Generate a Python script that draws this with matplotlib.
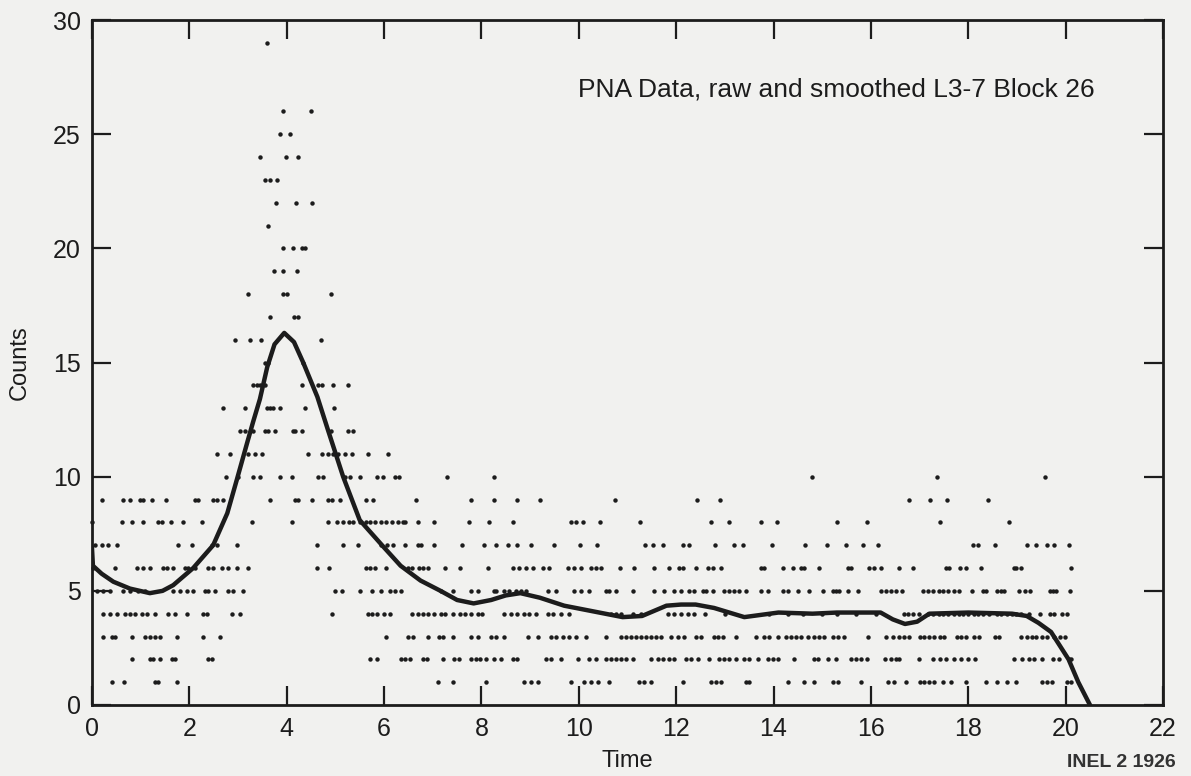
import matplotlib
matplotlib.use('Agg')
import matplotlib.pyplot as plt

plt.rcParams['font.family'] = ['Liberation Sans', 'DejaVu Sans']

# raw PNA counts: time values for each integer count level
times_1 = [0.41, 0.66, 1.3, 1.36, 1.75, 7.1, 7.41, 8.09, 8.87, 9.01, 9.16, 9.84, 10.1, 10.25, 10.39,
           10.62, 11.23, 11.34, 11.48, 12.14, 12.72, 12.82, 12.92, 13.44, 13.5, 14.3, 14.63, 14.84,
           15.23, 15.33, 15.8, 16.36, 16.48, 16.73, 17.0, 17.1, 17.2, 17.3, 17.49, 17.65, 17.96,
           18.37, 18.58, 18.79, 18.99, 19.51, 19.61, 19.71, 20.02, 20.12]
times_2 = [0.82, 1.19, 1.26, 1.4, 1.65, 1.71, 2.39, 2.47, 5.72, 5.86, 6.34, 6.44, 6.54, 6.79, 6.89,
           7.22, 7.43, 7.53, 7.78, 7.88, 7.98, 8.09, 8.25, 8.4, 8.64, 8.74, 9.32, 9.42, 9.63, 9.98,
           10.21, 10.35, 10.56, 10.66, 10.76, 10.86, 10.97, 11.11, 11.48, 11.63, 11.73, 11.85, 11.95,
           12.2, 12.3, 12.45, 12.67, 12.88, 12.98, 13.09, 13.23, 13.4, 13.5, 13.68, 13.89, 13.99,
           14.09, 14.42, 14.84, 14.92, 15.12, 15.29, 15.6, 15.7, 15.8, 15.91, 16.28, 16.42, 16.52,
           16.58, 16.98, 17.28, 17.41, 17.55, 17.7, 17.86, 18.0, 18.13, 18.93, 19.1, 19.24, 19.36,
           19.51, 19.75, 19.86, 20.06, 20.12]
times_3 = [0.23, 0.41, 0.47, 0.82, 1.09, 1.19, 1.3, 1.4, 1.75, 2.28, 2.63, 6.03, 6.5, 6.6, 6.91,
           7.12, 7.22, 7.41, 7.78, 7.92, 8.19, 8.29, 8.46, 8.95, 9.16, 9.42, 9.53, 9.67, 9.79, 9.94,
           10.14, 10.56, 10.86, 10.97, 11.07, 11.17, 11.28, 11.38, 11.48, 11.58, 11.69, 11.89, 12.04,
           12.16, 12.41, 12.51, 12.78, 12.86, 12.96, 13.23, 13.64, 13.81, 13.91, 14.09, 14.26, 14.36,
           14.47, 14.57, 14.71, 14.84, 14.94, 15.04, 15.23, 15.33, 15.45, 15.95, 16.32, 16.46, 16.58,
           16.69, 16.79, 17.0, 17.1, 17.2, 17.3, 17.41, 17.51, 17.76, 17.86, 17.96, 18.11, 18.23,
           18.54, 18.64, 19.09, 19.2, 19.3, 19.4, 19.51, 19.61, 19.77, 19.88, 19.98]
times_4 = [0.23, 0.37, 0.51, 0.68, 0.78, 0.88, 1.03, 1.13, 1.3, 1.56, 1.71, 1.95, 2.28, 2.37, 2.88,
           3.05, 4.94, 5.66, 5.76, 5.86, 5.99, 6.13, 6.58, 6.69, 6.81, 6.91, 7.02, 7.16, 7.26, 7.41,
           7.57, 7.67, 7.78, 7.92, 8.02, 8.46, 8.6, 8.74, 8.87, 8.97, 9.12, 9.36, 9.47, 9.63, 9.79,
           10.66, 10.76, 10.86, 11.11, 11.28, 11.83, 11.95, 12.1, 12.24, 12.37, 12.6, 13.0, 13.9,
           14.3, 14.6, 15.0, 15.3, 15.7, 16.1, 16.67, 16.77, 16.87, 16.98, 17.18, 17.28, 17.39,
           17.49, 17.59, 17.7, 17.8, 17.9, 18.0, 18.11, 18.21, 18.31, 18.42, 18.58, 18.68, 18.79,
           18.89, 18.99, 19.09, 19.24, 19.47, 19.67, 19.77, 19.92, 20.02]
times_5 = [0.1, 0.23, 0.37, 0.64, 0.78, 0.95, 1.09, 1.67, 1.81, 1.95, 2.08, 2.33, 2.39, 2.53, 2.8,
           2.9, 3.11, 5.0, 5.14, 5.51, 5.76, 5.93, 6.13, 6.23, 6.34, 7.16, 7.41, 7.78, 7.92, 8.25,
           8.29, 8.46, 8.56, 8.7, 8.81, 8.91, 9.36, 9.53, 9.9, 10.04, 10.21, 10.56, 10.62, 10.76,
           11.11, 11.54, 11.75, 11.95, 12.1, 12.26, 12.37, 12.55, 12.61, 12.76, 12.98, 13.09, 13.19,
           13.29, 13.44, 13.74, 13.89, 14.2, 14.3, 14.51, 14.73, 15.02, 15.23, 15.29, 15.35, 15.53,
           15.74, 16.21, 16.32, 16.42, 16.52, 16.63, 17.08, 17.18, 17.28, 17.39, 17.49, 17.59, 17.7,
           17.8, 18.07, 18.31, 18.37, 18.58, 18.68, 18.74, 19.05, 19.16, 19.26, 19.67, 19.75, 19.81,
           20.08]
times_6 = [0.02, 0.47, 0.93, 1.05, 1.19, 1.46, 1.54, 1.67, 1.91, 1.98, 2.12, 2.39, 2.49, 2.67, 2.8,
           2.98, 3.21, 4.63, 4.86, 5.62, 5.72, 5.82, 6.03, 6.5, 6.58, 6.71, 6.81, 6.91, 7.26, 7.57,
           8.13, 8.64, 8.77, 8.91, 9.05, 9.26, 9.38, 9.77, 9.9, 10.04, 10.25, 10.35, 10.45, 10.84,
           11.13, 11.54, 11.85, 12.06, 12.14, 12.41, 12.65, 12.76, 12.92, 13.74, 13.81, 14.2, 14.4,
           14.57, 14.63, 14.94, 15.53, 15.6, 15.97, 16.07, 16.21, 16.58, 16.87, 17.55, 17.61, 17.82,
           17.96, 18.27, 18.93, 18.99, 19.09, 20.12]
times_7 = [0.06, 0.2, 0.33, 0.51, 1.77, 2.06, 2.47, 2.57, 2.98, 4.63, 5.16, 5.47, 5.93, 6.07, 6.19,
           6.44, 6.69, 6.75, 7.02, 7.61, 8.05, 8.29, 8.54, 8.74, 9.01, 9.49, 10.02, 10.37, 11.36,
           11.52, 11.73, 12.14, 12.26, 12.8, 13.19, 13.37, 13.97, 14.65, 15.1, 15.49, 15.84, 16.15,
           18.1, 18.21, 18.54, 19.2, 19.4, 19.61, 19.77, 20.06]
times_8 = [0.0, 0.62, 0.82, 1.05, 1.36, 1.44, 1.63, 1.87, 2.26, 3.29, 4.1, 4.84, 5.04, 5.16, 5.27,
           5.37, 5.51, 5.62, 5.72, 5.82, 5.93, 6.03, 6.17, 6.28, 6.38, 6.44, 6.69, 7.02, 7.74, 8.15,
           8.64, 9.84, 9.94, 10.08, 10.43, 11.26, 12.72, 13.09, 13.74, 14.07, 15.31, 15.93, 17.41,
           18.83]
times_9 = [0.2, 0.64, 0.78, 0.99, 1.05, 1.23, 1.52, 2.12, 2.18, 2.49, 2.57, 2.7, 3.66, 4.18, 4.24,
           4.53, 4.84, 4.94, 5.1, 5.62, 5.78, 6.65, 7.78, 8.25, 8.74, 9.2, 10.74, 12.43, 12.9,
           16.79, 17.22, 17.57, 18.4]
times_10 = [2.75, 3.0, 3.3, 3.45, 3.87, 4.1, 4.65, 4.75, 5.2, 5.3, 5.51, 5.86, 5.97, 6.23, 6.3,
            7.3, 8.25, 14.8, 17.35, 19.57]
times_11 = [2.57, 2.84, 3.2, 3.35, 3.5, 4.44, 4.73, 4.84, 4.96, 5.06, 5.2, 5.35, 5.66, 6.09]
times_12 = [3.05, 3.15, 3.3, 3.56, 3.62, 3.77, 4.12, 4.18, 4.32, 4.9, 5.25, 5.37]
times_13 = [2.7, 3.15, 3.6, 3.66, 3.72, 3.87, 4.38, 4.98]
times_14 = [3.31, 3.4, 3.46, 3.56, 4.32, 4.65, 4.73, 4.96, 5.25]
times_15 = [3.55, 3.62, 4.34]
times_16 = [2.94, 3.25, 3.48, 4.71]
times_17 = [3.66, 4.16, 4.24]
times_18 = [3.21, 3.93, 4.01, 4.9]
times_19 = [3.74, 3.93, 4.22]
times_20 = [3.93, 4.12, 4.32, 4.38]
times_21 = [3.62]
times_22 = [3.79, 4.2, 4.51]
times_23 = [3.56, 3.66, 3.81]
times_24 = [3.46, 3.99, 4.24]
times_25 = [3.87, 4.07]
times_26 = [3.93, 4.49]
times_29 = [3.6]

raw_levels = {1: times_1, 2: times_2, 3: times_3, 4: times_4, 5: times_5, 6: times_6,
              7: times_7, 8: times_8, 9: times_9, 10: times_10, 11: times_11, 12: times_12,
              13: times_13, 14: times_14, 15: times_15, 16: times_16, 17: times_17,
              18: times_18, 19: times_19, 20: times_20, 21: times_21, 22: times_22,
              23: times_23, 24: times_24, 25: times_25, 26: times_26, 29: times_29}

# smoothed curve
smooth_t = [0.0, 0.02, 0.2, 0.44, 0.78, 1.19, 1.45, 1.67, 2.08, 2.49, 2.78, 2.98, 3.19, 3.31,
            3.45, 3.6, 3.75, 3.95, 4.15, 4.34, 4.63, 4.84, 5.16, 5.5, 6.0, 6.34, 6.75, 7.16,
            7.5, 7.84, 8.2, 8.5, 8.8, 9.2, 9.7, 10.3, 10.9, 11.3, 11.8, 12.1, 12.4, 12.78,
            13.4, 14.1, 14.8, 15.3, 16.2, 16.45, 16.7, 16.95, 17.2, 18.0, 18.9, 19.2, 19.44,
            19.7, 19.85, 20.06, 20.26, 20.5]
smooth_counts = [6.9, 6.1, 5.75, 5.4, 5.1, 4.9, 5.0, 5.25, 6.0, 7.0, 8.4, 9.9, 11.5, 12.4,
                 13.4, 14.8, 15.8, 16.3, 15.9, 15.0, 13.5, 12.1, 10.0, 8.1, 6.9, 6.1, 5.45, 5.0,
                 4.6, 4.45, 4.6, 4.8, 4.9, 4.7, 4.35, 4.1, 3.85, 3.9, 4.35, 4.4, 4.4, 4.25,
                 3.85, 4.05, 4.0, 4.05, 4.05, 3.75, 3.55, 3.65, 4.0, 4.05, 4.0, 3.9, 3.6,
                 3.2, 2.7, 2.0, 1.0, 0.0]

x_ticks = list(range(0, 23, 2))
y_ticks = [0, 5, 10, 15, 20, 25, 30]

bg = '#f1f1ef'
ink = '#1c1c1c'

fig = plt.figure(figsize=(11.91, 7.76), dpi=100, facecolor=bg)
ax = fig.add_axes([0.0772, 0.0915, 0.8993, 0.8825], facecolor=bg)

for level, times in raw_levels.items():
    ax.plot(times, [level] * len(times), ls='none', marker='o', ms=3.2,
            mfc=ink, mec='none', clip_on=False)

ax.plot(smooth_t, smooth_counts, color=ink, lw=3.2, solid_capstyle='round',
        solid_joinstyle='round')

ax.set_xlim(0, 22)
ax.set_ylim(0, 30)
ax.set_xticks(x_ticks)
ax.set_yticks(y_ticks)
ax.tick_params(direction='in', length=14, width=1.6, colors=ink, labelsize=18,
               top=True, right=True)
ax.tick_params(axis='x', pad=9)
ax.tick_params(axis='y', pad=8)
for sp in ax.spines.values():
    sp.set_linewidth(2.0)
    sp.set_color(ink)

ax.set_xlabel('Time', fontsize=17, color=ink, labelpad=6)
ax.set_ylabel('Counts', fontsize=17, color=ink, labelpad=16)

ax.text(0.936, 0.899, 'PNA Data, raw and smoothed L3-7 Block 26', transform=ax.transAxes,
        ha='right', va='center', fontsize=19, color=ink)
fig.text(0.987, 0.006, 'INEL 2 1926', ha='right', va='bottom', fontsize=14,
         fontweight='bold', color='#333333')

fig.savefig('out.png', dpi=100, facecolor=bg)
